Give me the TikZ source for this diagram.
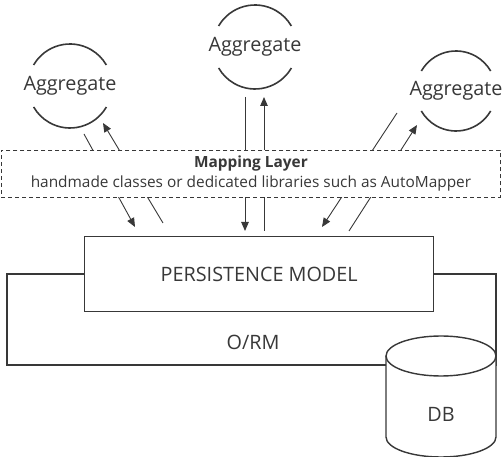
\documentclass[tikz,border=0pt]{standalone}
\usepackage{fontspec}
\setmainfont{Open Sans}
\usetikzlibrary{arrows.meta}
\definecolor{ink}{HTML}{383838}
\tikzset{
  arcline/.style={draw=ink,line width=1.6pt},
  conn/.style={draw=ink,line width=0.9pt},
  arr/.style={conn,-{Triangle[length=9pt,width=7.5pt]}},
  bigtext/.style={text=ink,font=\fontsize{19.8}{22}\selectfont,inner sep=0pt},
  boxline/.style={draw=ink,line width=1.4pt},
}
\begin{document}
\begin{tikzpicture}[x=1pt,y=-1pt]
\useasboundingbox (0,0) rectangle (504,457);
% aggregates
\node[bigtext] (agg1) at (70,86) {Aggregate};
\node[bigtext] (agg2) at (255,47) {Aggregate};
\node[bigtext] (agg3) at (456,91) {Aggregate};
\foreach \n/\r in {agg1/42,agg2/42,agg3/40}{
  \draw[arcline] (\n.center) ++(30:\r) arc[start angle=30,end angle=150,radius=\r];
  \draw[arcline] (\n.center) ++(210:\r) arc[start angle=210,end angle=330,radius=\r];
}
% connector endpoints
\coordinate (a1s) at (84,134);  \coordinate (a1e) at (135,227);
\coordinate (b1s) at (163,223); \coordinate (b1e) at (103,123);
\coordinate (c1s) at (245,97);  \coordinate (c1e) at (245,231);
\coordinate (d1s) at (264,231); \coordinate (d1e) at (264,97);
\coordinate (e1s) at (397,113); \coordinate (e1e) at (322,227);
\coordinate (f1s) at (349,231); \coordinate (f1e) at (417,125);
\draw[arr] (a1s) -- (a1e);
\draw[arr] (b1s) -- (b1e);
\draw[arr] (c1s) -- (c1e);
\draw[arr] (d1s) -- (d1e);
\draw[arr] (e1s) -- (e1e);
\draw[arr] (f1s) -- (f1e);
% mapping layer
\node[draw=ink,line width=0.9pt,dash pattern=on 4pt off 3pt,fill=white,
      minimum width=499pt,minimum height=47pt,inner sep=0pt,anchor=north west,
      align=center,text=ink,font=\fontsize{15.4}{20}\selectfont] (map) at (1,150)
  {\textbf{Mapping Layer}\\handmade classes or dedicated libraries such as AutoMapper};
% O/RM frame
\coordinate (fl) at (7,274); \coordinate (fbl) at (7,365);
\coordinate (fbr) at (496,365); \coordinate (fr) at (496,274);
\draw[boxline] (84,274) -- (fl) -- (fbl) -- (fbr) -- (fr) -- (433,274);
\node[bigtext] (orm) at (253,342) {O/RM};
% persistence model
\node[boxline,fill=white,minimum width=349pt,minimum height=75pt,anchor=north west,
      bigtext] (pm) at (84,236) {PERSISTENCE MODEL};
% DB cylinder
\filldraw[boxline,fill=white] (386,356) -- (386,437) arc[start angle=180,end angle=0,x radius=55,y radius=20] -- (496,356);
\filldraw[boxline,fill=white] (441,356) ellipse[x radius=55,y radius=20];
\node[bigtext] (db) at (441,414) {DB};
\end{tikzpicture}
\end{document}
